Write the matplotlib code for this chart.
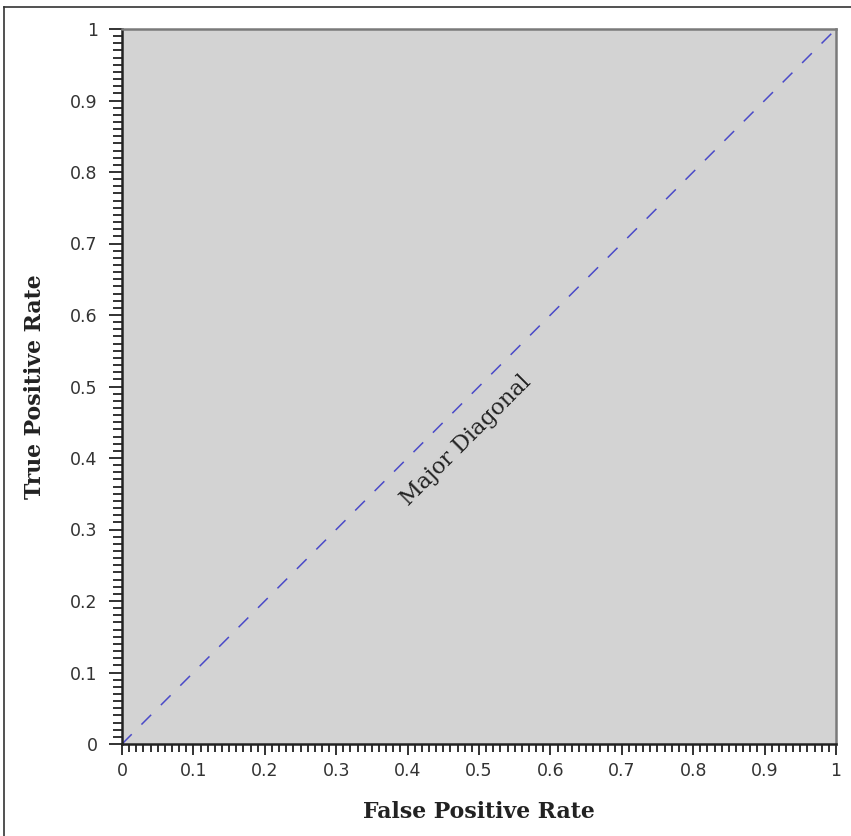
import matplotlib
matplotlib.use("Agg")
import matplotlib.pyplot as plt
import numpy as np
from matplotlib.ticker import MultipleLocator
from matplotlib.lines import Line2D

diag_x = [0, 1]
diag_y = [0, 1]
tick_vals = [0, 0.1, 0.2, 0.3, 0.4, 0.5, 0.6, 0.7, 0.8, 0.9, 1]
tick_labels = ["0", "0.1", "0.2", "0.3", "0.4", "0.5", "0.6", "0.7", "0.8", "0.9", "1"]
x_label = "False Positive Rate"
y_label = "True Positive Rate"
annot_text = "Major Diagonal"

fig = plt.figure(figsize=(8.51, 8.36), dpi=100)
ax = fig.add_axes([122/851, 1-744/836, (836-122)/851, (744-29)/836])
ax.set_facecolor("#d3d3d3")
ax.plot(diag_x, diag_y, linestyle=(0, (9, 9)), color="#4a4ac8", linewidth=1.1)
ax.set_xlim(0, 1)
ax.set_ylim(0, 1)
ax.set_xticks(tick_vals)
ax.set_xticklabels(tick_labels)
ax.set_yticks(tick_vals)
ax.set_yticklabels(tick_labels)
ax.xaxis.set_minor_locator(MultipleLocator(0.01))
ax.yaxis.set_minor_locator(MultipleLocator(0.01))
tc = "#222222"
ax.tick_params(axis="x", which="major", length=8, width=1.3, direction="out", labelsize=12.5, colors=tc, pad=5)
ax.tick_params(axis="x", which="minor", length=5.8, width=1.3, direction="out", colors=tc)
ax.tick_params(axis="y", which="major", length=9.5, width=1.3, direction="out", labelsize=12.5, colors=tc, pad=8)
ax.tick_params(axis="y", which="minor", length=6.5, width=1.3, direction="out", colors=tc)
for lbl in ax.get_xticklabels() + ax.get_yticklabels():
    lbl.set_color("#333333")
ax.spines["left"].set_color(tc)
ax.spines["bottom"].set_color(tc)
ax.spines["left"].set_linewidth(1.8)
ax.spines["bottom"].set_linewidth(1.8)
ax.spines["top"].set_color("#7a7a7a")
ax.spines["right"].set_color("#7a7a7a")
ax.spines["top"].set_linewidth(1.8)
ax.spines["right"].set_linewidth(1.8)

ax.set_xlabel(x_label, fontsize=15.8, fontweight="bold", family="DejaVu Serif", labelpad=15, color=tc)
ax.set_ylabel(y_label, fontsize=15.8, fontweight="bold", family="DejaVu Serif", labelpad=17, color=tc)

ax.text(0.482, 0.425, annot_text, rotation=45, rotation_mode="anchor", ha="center", va="center",
        family="DejaVu Serif", fontsize=16, color=tc, transform=ax.transData)

# figure border
fig.add_artist(Line2D([4/851, 1], [1-7/836, 1-7/836], transform=fig.transFigure, color="#333333", linewidth=1.2))
fig.add_artist(Line2D([4/851, 4/851], [0, 1-7/836], transform=fig.transFigure, color="#333333", linewidth=1.2))

fig.savefig("out.png", dpi=100)
